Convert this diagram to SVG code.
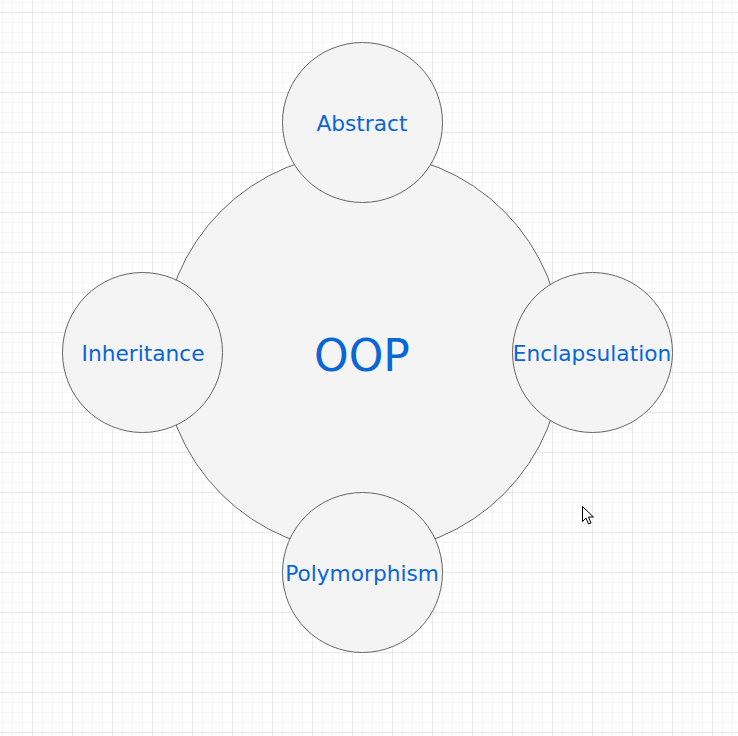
<svg xmlns="http://www.w3.org/2000/svg" width="738" height="736" viewBox="0 0 738 736">
<style>
.c{fill:#f4f4f4;stroke:#666;stroke-width:1}
.t{font-family:"DejaVu Sans",Verdana,sans-serif;font-size:21.7px;fill:#0a66d4;text-anchor:middle}
.big{font-size:44px}
</style>
<defs>
<pattern id="minor" x="2" y="2" width="10" height="10" patternUnits="userSpaceOnUse">
<path d="M0.5 0V10M0 0.5H10" stroke="#f6f6f6" stroke-width="1" fill="none"/>
</pattern>
<pattern id="major" x="32" y="12" width="40" height="40" patternUnits="userSpaceOnUse">
<path d="M0.5 0V40M0 0.5H40" stroke="#e8e8e8" stroke-width="1" fill="none"/>
</pattern>
</defs>
<rect width="738" height="736" fill="#fff"/>
<rect width="738" height="736" fill="url(#minor)"/>
<rect width="738" height="736" fill="url(#major)"/>
<g id="connectors"></g>
<g id="oop">
<circle class="c" cx="362.5" cy="352.5" r="200"/>
<text class="t big" x="362" y="371">OOP</text>
</g>
<g id="abstract">
<circle class="c" cx="362.5" cy="122.5" r="80"/>
<text class="t" x="362" y="131">Abstract</text>
</g>
<g id="inheritance">
<circle class="c" cx="142.5" cy="352.5" r="80"/>
<text class="t" x="143" y="361">Inheritance</text>
</g>
<g id="enclapsulation">
<circle class="c" cx="592.5" cy="352.5" r="80"/>
<text class="t" x="592" y="361">Enclapsulation</text>
</g>
<g id="polymorphism">
<circle class="c" cx="362.5" cy="572.5" r="80"/>
<text class="t" x="362" y="581">Polymorphism</text>
</g>
<path d="M582.5 506.5V521.5L586 518L588.5 524L591 523L588.5 517H593.5Z" fill="#fff" stroke="#000" stroke-width="1" stroke-linejoin="miter"/>
</svg>
